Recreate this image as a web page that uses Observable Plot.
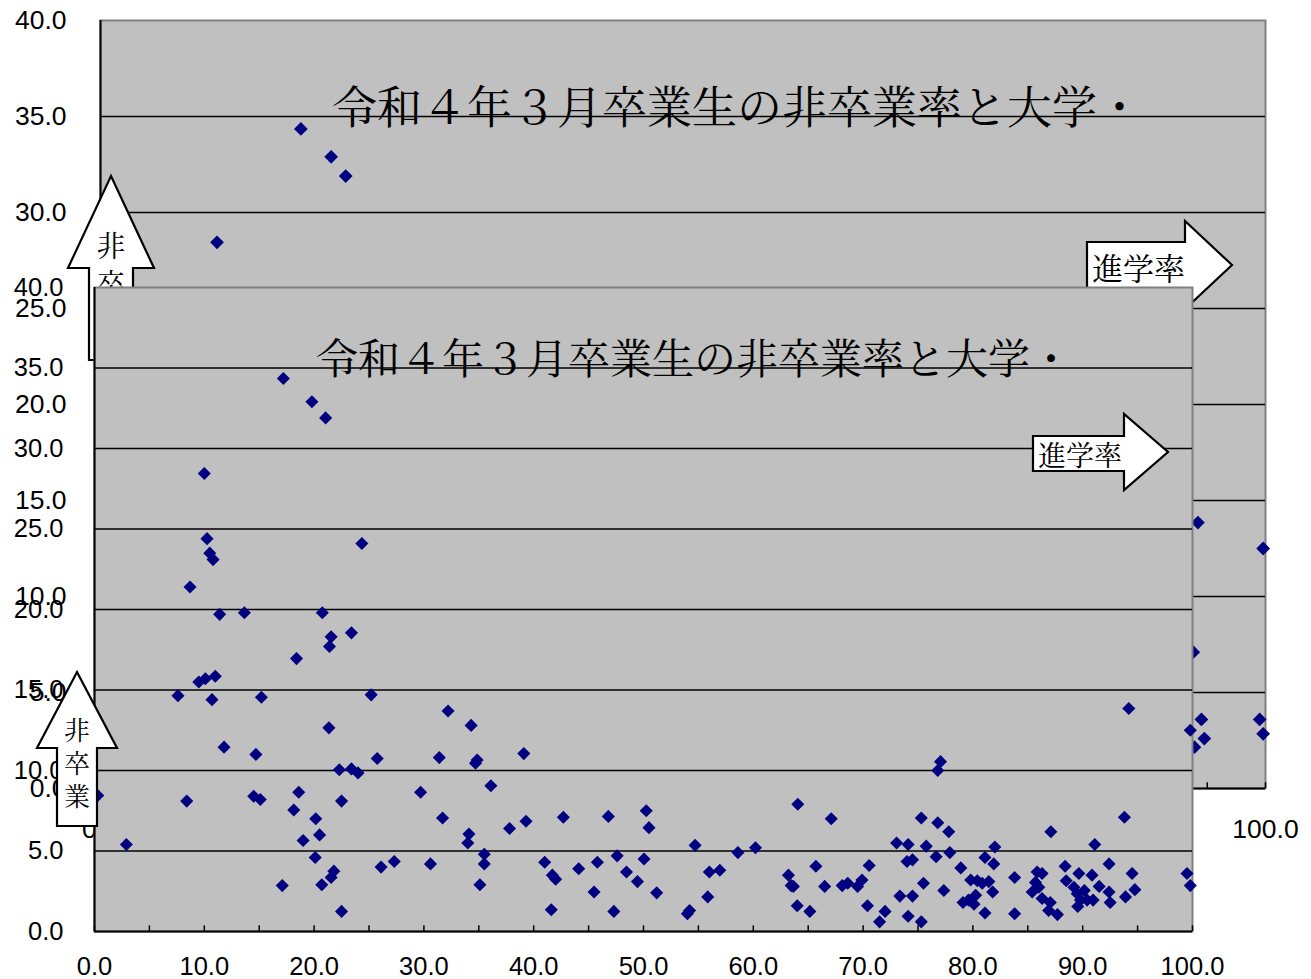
<!DOCTYPE html>
<html><head><meta charset="utf-8">
<script src="https://cdn.jsdelivr.net/npm/d3@7"></script>
<script src="https://cdn.jsdelivr.net/npm/@observablehq/plot@0.6"></script>
<style>
body{margin:0;background:#fff;}
#wrap{position:relative;width:1311px;height:979px;overflow:hidden;background:#fff;}
#wrap svg{position:absolute;left:0;top:0;}
</style></head><body><div id="wrap"></div>
<script>
// 大学・短大等進学率 (x) と 非卒業率 (y)
const univRate = [
 17.2,19.8,21.05,10.0,
 10.25,10.5,10.8,8.7,24.35,11.4,13.65,20.75,21.55,21.4,23.4,18.4,9.5,10.1,11.0,7.6,10.7,15.2,25.2,32.2,34.3,21.35,11.8,14.7,25.75,31.4,34.85,34.7,39.1,22.3,23.4,24.0,
 0.3,8.4,2.9,14.5,15.1,18.6,18.15,20.15,20.5,19.0,20.1,22.5,21.8,21.55,20.7,17.1,22.5,26.1,27.3,29.7,31.7,30.6,34.1,34.0,35.1,35.5,35.5,36.1,
 37.8,39.3,42.7,46.8,50.25,50.5,41.0,41.7,42.0,41.6,44.1,45.8,45.5,47.6,48.45,49.45,50.05,47.3,51.2,54.7,56.0,56.95,58.6,60.2,55.85,54.0,54.2,63.2,63.45,63.65,64.0,64.05,
 77.05,76.8,67.1,75.3,76.8,77.8,73.05,74.1,75.75,77.9,76.65,74.0,74.5,82.0,81.1,81.9,78.9,70.55,65.7,66.5,68.1,68.6,69.5,69.9,75.5,77.35,73.35,74.5,65.15,70.4,72.0,71.5,74.1,75.3,79.8,80.4,80.85,81.45,81.8,79.1,79.6,80.1,80.25,81.1,
 94.2,93.8,87.1,91.1,92.4,88.4,94.5,99.5,99.8,83.8,85.85,86.3,89.65,90.85,85.7,85.4,86.0,86.3,87.05,86.9,87.7,83.8,88.5,89.2,89.5,89.8,89.55,90.15,90.4,90.95,91.5,92.4,92.5,93.9,94.75,99.8
];
const nonGradRate = [
 34.35,32.9,31.9,28.45,
 24.4,23.5,23.1,21.4,24.1,19.7,19.8,19.8,18.3,17.7,18.55,16.95,15.5,15.7,15.85,14.65,14.4,14.55,14.7,13.7,12.8,12.65,11.45,11.0,10.75,10.8,10.65,10.45,11.05,10.05,10.1,9.85,
 8.45,8.1,5.4,8.4,8.2,8.65,7.55,7.0,6.0,5.65,4.6,8.1,3.75,3.35,2.9,2.85,1.25,4.0,4.35,8.65,7.05,4.2,6.05,5.5,2.9,4.8,4.2,9.05,
 6.4,6.85,7.1,7.15,7.5,6.45,4.3,3.5,3.25,1.35,3.9,4.3,2.45,4.7,3.7,3.1,4.5,1.25,2.4,5.35,3.7,3.8,4.9,5.2,2.15,1.1,1.3,3.5,2.85,2.8,1.6,7.9,
 10.55,10.0,7.0,7.05,6.75,6.2,5.5,5.4,5.3,4.9,4.65,4.35,4.45,5.25,4.6,4.2,3.95,4.1,4.05,2.8,2.85,3.0,2.8,3.2,3.0,2.55,2.2,2.2,1.25,1.6,1.25,0.6,0.95,0.6,3.2,3.15,3.0,3.1,2.45,1.8,1.95,1.7,2.25,1.15,
 13.85,7.1,6.2,5.4,4.2,4.05,3.6,3.6,2.85,3.35,3.7,3.6,3.6,3.5,3.05,2.45,2.75,2.05,1.8,1.3,1.05,1.1,3.15,2.75,2.35,1.95,1.55,2.55,1.95,1.95,2.8,2.45,1.8,2.15,2.6,12.5
];
const yTicks = [0, 5, 10, 15, 20, 25, 30, 35, 40];
const gridValues = [5, 10, 15, 20, 25, 30, 35];
const xTicks = [0, 10, 20, 30, 40, 50, 60, 70, 80, 90, 100];
const minorXTicks = [0, 5, 10, 15, 20, 25, 30, 35, 40, 45, 50, 55, 60, 65, 70, 75, 80, 85, 90, 95, 100];
const titleText = "令和４年３月卒業生の非卒業率と大学・";
const yArrowChars = ["非", "卒", "業"];
const xArrowText = "進学率";

const points = univRate.map((x, i) => ({x, y: nonGradRate[i]}));
const CJK = "'Noto Serif CJK JP','Noto Sans CJK JP',sans-serif";
const NUM = "'Liberation Sans',Arial,sans-serif";

function annotations(c) {
  return () => {
    const g = d3.create("svg:g");
    // title
    g.append("text").attr("x", c.title.x).attr("y", c.title.y).attr("dy", "0.36em")
      .attr("text-anchor", "start")
      .attr("font-family", CJK).attr("font-size", c.title.size).attr("fill", "#000")
      .text(titleText);
    // up arrow
    const u = c.up;
    g.append("polygon").attr("points", [
      [u.cx, u.tip], [u.cx + u.hh, u.base], [u.cx + u.sh, u.base], [u.cx + u.sh, u.bottom],
      [u.cx - u.sh, u.bottom], [u.cx - u.sh, u.base], [u.cx - u.hh, u.base]].map(p => p.join(",")).join(" "))
      .attr("fill", "#fff").attr("stroke", "#000").attr("stroke-width", 2.2).attr("stroke-linejoin", "miter");
    yArrowChars.forEach((ch, i) => {
      g.append("text").attr("x", u.cx).attr("y", u.textY + i * u.step).attr("dy", "0.36em")
        .attr("text-anchor", "middle").attr("font-family", CJK).attr("font-size", u.font)
        .attr("fill", "#000").text(ch);
    });
    // right arrow
    const r = c.right;
    g.append("polygon").attr("points", [
      [r.sl, r.st], [r.hb, r.st], [r.hb, r.ht], [r.tip, r.ty], [r.hb, r.hbm], [r.hb, r.sb], [r.sl, r.sb]]
      .map(p => p.join(",")).join(" "))
      .attr("fill", "#fff").attr("stroke", "#000").attr("stroke-width", 2.2);
    g.append("text").attr("x", r.textX).attr("y", r.textY).attr("dy", "0.36em")
      .attr("text-anchor", "start")
      .attr("font-family", CJK).attr("font-size", r.font).attr("fill", "#000").text(xArrowText);
    return g.node();
  };
}

function makeChart(c) {
  return Plot.plot({
    width: 1311, height: 979,
    marginLeft: c.ml, marginRight: c.mr, marginTop: c.mt, marginBottom: c.mb,
    style: {background: "transparent", fontFamily: NUM, fontSize: c.font + "px", color: "#000", overflow: "visible"},
    x: {domain: [0, 100]},
    y: {domain: [0, 40]},
    marks: [
      Plot.frame({fill: "#c0c0c0", stroke: "#808080", strokeWidth: 2}),
      Plot.ruleY(gridValues, {stroke: "#000", strokeWidth: 1.4}),
      Plot.ruleX(minorXTicks, {y1: 0, y2: c.tickLen, stroke: "#000", strokeWidth: 1.5}),
      Plot.ruleX([0], {stroke: "#000", strokeWidth: 2}),
      Plot.ruleY([0], {stroke: "#000", strokeWidth: 2}),
      Plot.axisY(yTicks, {tickSize: 0, tickPadding: c.yPad, tickFormat: d => d.toFixed(1), label: null, fontSize: c.font, fill: "#000"}),
      Plot.axisX(xTicks, {tickSize: 0, tickPadding: c.xPad, tickFormat: d => d.toFixed(1), label: null, fontSize: c.font, fill: "#000"}),
      Plot.dot(points, {x: "x", y: "y", symbol: "diamond2", r: c.r, fill: "#000080", stroke: "none"}),
      annotations(c)
    ]
  });
}

const back = makeChart({
  ml: 100, mr: 46, mt: 20, mb: 191, font: 26.5, yPad: 34, xPad: 31, tickLen: 0.3, r: 6.2,
  title: {x: 332, y: 108, size: 45},
  up: {cx: 111, tip: 176, base: 268, hh: 43, sh: 22, bottom: 360, textY: 247, step: 38, font: 29},
  right: {sl: 1087, st: 242, sb: 288, hb: 1185, ht: 221, hbm: 309, tip: 1232, ty: 265, textX: 1092, textY: 269, font: 31}
});
const front = makeChart({
  ml: 94, mr: 119, mt: 287, mb: 48, font: 25.5, yPad: 31, xPad: 25, tickLen: 0.35, r: 5.9,
  title: {x: 316, y: 359, size: 42},
  up: {cx: 77, tip: 672, base: 748, hh: 40, sh: 20, bottom: 826, textY: 731, step: 33, font: 26},
  right: {sl: 1033, st: 436, sb: 471, hb: 1124, ht: 414, hbm: 490, tip: 1168, ty: 452, textX: 1038, textY: 456, font: 28}
});
const wrap = document.getElementById("wrap");
wrap.appendChild(back);
wrap.appendChild(front);
</script></body></html>
